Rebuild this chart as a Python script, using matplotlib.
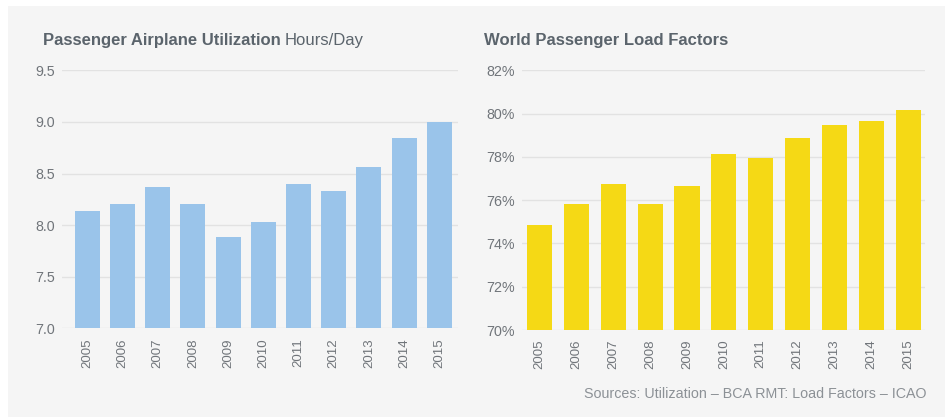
import matplotlib
matplotlib.use("Agg")
import matplotlib.pyplot as plt
from matplotlib.patches import Rectangle
from matplotlib.ticker import FuncFormatter

plt.rcParams['font.family'] = ['Liberation Sans', 'DejaVu Sans']

years = ["2005", "2006", "2007", "2008", "2009", "2010", "2011", "2012", "2013", "2014", "2015"]
utilization = [8.14, 8.20, 8.37, 8.20, 7.88, 8.03, 8.40, 8.33, 8.56, 8.84, 9.00]
load_factors = [74.85, 75.82, 76.75, 75.82, 76.65, 78.13, 77.95, 78.87, 79.47, 79.66, 80.16]
util_ticks = [7.0, 7.5, 8.0, 8.5, 9.0, 9.5]
lf_ticks = [70, 72, 74, 76, 78, 80, 82]

W, H = 946, 418
fig = plt.figure(figsize=(W / 100, H / 100), dpi=100, facecolor='white')
fig.patches.append(Rectangle((8 / W, 1 - 417 / H), (945 - 8) / W, (417 - 6) / H,
                             transform=fig.transFigure, facecolor='#f5f5f5',
                             edgecolor='none', zorder=-10))

title_col = '#5b646c'
tick_col = '#70757a'
grid_col = '#e2e2e2'

def make_ax(left_px, right_px, top_px, bottom_px):
    return fig.add_axes([left_px / W, 1 - bottom_px / H, (right_px - left_px) / W, (bottom_px - top_px) / H])

def style(ax):
    ax.set_facecolor('none')
    for s in ax.spines.values():
        s.set_visible(False)
    ax.tick_params(axis='both', length=0, colors=tick_col)
    ax.tick_params(axis='y', pad=5, labelsize=10.3)
    ax.tick_params(axis='x', pad=7, labelsize=9.5)
    ax.grid(axis='y', color=grid_col, linewidth=1.0)
    ax.set_axisbelow(True)
    for lab in ax.get_xticklabels():
        lab.set_rotation(90)

x = list(range(len(years)))

# Left chart
ax1 = make_ax(62, 458, 70.3, 328.3)
ax1.bar(x, [u - 7.0 for u in utilization], bottom=7.0, width=0.71, color='#9ac4ea', zorder=2)
ax1.set_ylim(7.0, 9.5)
ax1.set_yticks(util_ticks)
ax1.yaxis.set_major_formatter(FuncFormatter(lambda v, p: f"{v:.1f}"))
ax1.set_xlim(-0.72, len(years) - 1 + 0.53)
ax1.set_xticks(x)
ax1.set_xticklabels(years)
style(ax1)

# Right chart
ax2 = make_ax(521.7, 925, 70.3, 330)
ax2.bar(x, [v - 70 for v in load_factors], bottom=70, width=0.68, color='#f5d915', zorder=2)
ax2.set_ylim(70, 82)
ax2.set_yticks(lf_ticks)
ax2.yaxis.set_major_formatter(FuncFormatter(lambda v, p: f"{v:.0f}%"))
ax2.set_xlim(-0.48, len(years) - 1 + 0.45)
ax2.set_xticks(x)
ax2.set_xticklabels(years)
style(ax2)

# Titles
t1 = fig.text(43 / W, 1 - 41 / H, "Passenger Airplane Utilization", fontsize=12,
              fontweight='bold', color=title_col, va='center', ha='left')
fig.canvas.draw()
bb = t1.get_window_extent()
fig.text(bb.x1 / W + 4 / W, 1 - 41 / H, "Hours/Day", fontsize=12,
         color=title_col, va='center', ha='left')
fig.text(484 / W, 1 - 41 / H, "World Passenger Load Factors", fontsize=12,
         fontweight='bold', color=title_col, va='center', ha='left')

fig.text(926 / W, 1 - 394 / H, "Sources: Utilization \u2013 BCA RMT: Load Factors \u2013 ICAO",
         fontsize=10.3, color='#8c9196', va='center', ha='right')

fig.savefig('out.png', dpi=100, facecolor='white')
